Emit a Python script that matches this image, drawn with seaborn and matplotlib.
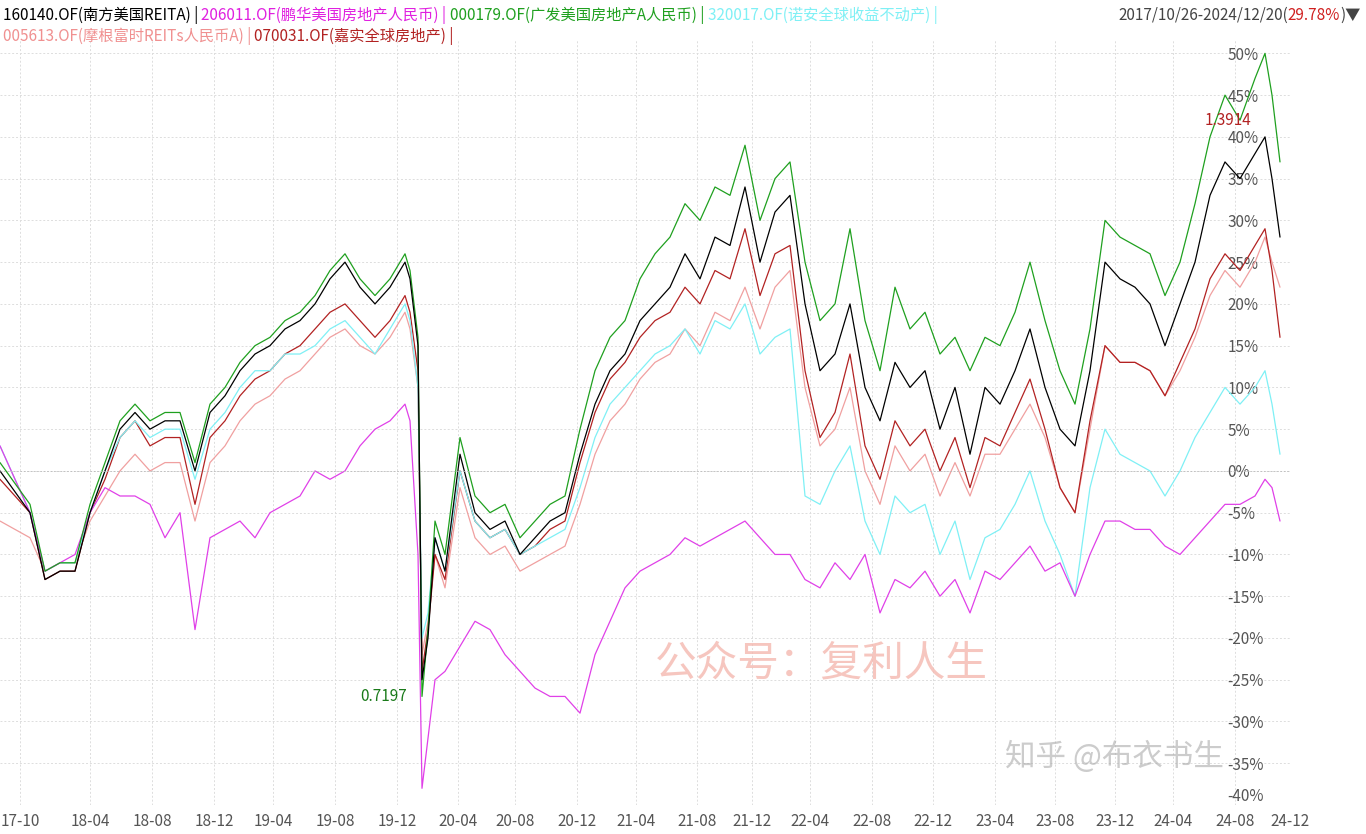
import matplotlib
matplotlib.use("Agg")
import matplotlib.pyplot as plt
import seaborn as sns
import pandas as pd
from matplotlib.ticker import FuncFormatter

day = [0,30,45,60,75,90,105,120,135,150,165,180,195,210,225,240,255,270,285,300,315,330,345,360,375,390,405,410,418,422,428,435,445,460,475,490,505,520,535,550,565,580,595,610,625,640,655,670,685,700,715,730,745,760,775,790,805,820,835,850,865,880,895,910,925,940,955,970,985,1000,1015,1030,1045,1060,1075,1090,1105,1120,1135,1150,1165,1180,1195,1210,1225,1240,1255,1265,1272,1280]

nanfang = [0,-5,-13,-12,-12,-5,0,5,7,5,6,6,0,7,9,12,14,15,17,18,20,23,25,22,20,22,25,23,15,-25,-20,-8,-12,2,-5,-7,-6,-10,-8,-6,-5,2,8,12,14,18,20,22,26,23,28,27,34,25,31,33,20,12,14,20,10,6,13,10,12,5,10,2,10,8,12,17,10,5,3,12,25,23,22,20,15,20,25,33,37,35,38,40,35,28]
guangfa = [1,-4,-12,-11,-11,-4,1,6,8,6,7,7,1,8,10,13,15,16,18,19,21,24,26,23,21,23,26,24,16,-27,-19,-6,-10,4,-3,-5,-4,-8,-6,-4,-3,5,12,16,18,23,26,28,32,30,34,33,39,30,35,37,25,18,20,29,18,12,22,17,19,14,16,12,16,15,19,25,18,12,8,17,30,28,27,26,21,25,32,40,45,42,47,50,45,37]
nuoan = [3,-5,-12,-11,-11,-5,0,4,6,4,5,5,-1,5,7,10,12,12,14,14,15,17,18,16,14,17,20,18,10,-20,-17,-8,-12,0,-6,-8,-7,-10,-9,-8,-7,-2,4,8,10,12,14,15,17,14,18,17,20,14,16,17,-3,-4,0,3,-6,-10,-3,-5,-4,-10,-6,-13,-8,-7,-4,0,-6,-10,-15,-2,5,2,1,0,-3,0,4,7,10,8,10,12,8,2]
penghua = [3,-5,-12,-11,-10,-5,-2,-3,-3,-4,-8,-5,-19,-8,-7,-6,-8,-5,-4,-3,0,-1,0,3,5,6,8,6,-10,-38,-32,-25,-24,-21,-18,-19,-22,-24,-26,-27,-27,-29,-22,-18,-14,-12,-11,-10,-8,-9,-8,-7,-6,-8,-10,-10,-13,-14,-11,-13,-10,-17,-13,-14,-12,-15,-13,-17,-12,-13,-11,-9,-12,-11,-15,-10,-6,-6,-7,-7,-9,-10,-8,-6,-4,-4,-3,-1,-2,-6]
mogen = [-6,-8,-12,-11,-11,-6,-3,0,2,0,1,1,-6,1,3,6,8,9,11,12,14,16,17,15,14,16,19,17,10,-22,-18,-10,-14,-2,-8,-10,-9,-12,-11,-10,-9,-4,2,6,8,11,13,14,17,15,19,18,22,17,22,24,10,3,5,10,0,-4,3,0,2,-3,1,-3,2,2,5,8,4,-2,-5,5,15,13,13,12,9,12,16,21,24,22,25,28,25,22]
jiashi = [-1,-5,-13,-12,-12,-5,-1,4,6,3,4,4,-4,4,6,9,11,12,14,15,17,19,20,18,16,18,21,19,12,-24,-19,-10,-13,0,-6,-8,-7,-10,-9,-7,-6,1,7,11,13,16,18,19,22,20,24,23,29,21,26,27,12,4,7,14,3,-1,6,3,5,0,4,-2,4,3,7,11,5,-2,-5,6,15,13,13,12,9,13,17,23,26,24,27,29,24,16]

series = {"nanfang": (nanfang, "black"), "guangfa": (guangfa, "#1fa01f"),
          "nuoan": (nuoan, "#7ff0f5"), "mogen": (mogen, "#f0a0a0"),
          "jiashi": (jiashi, "#b22222"), "penghua": (penghua, "#e040e8")}
rows = []
for k, (v, c) in series.items():
    for d, y in zip(day, v):
        rows.append({"day": d, "val": y, "fund": k})
df = pd.DataFrame(rows)

tick_pos = [20,90,152,214,273,335,397,458,515,577,636,697,752,810,872,933,995,1055,1115,1173,1235,1290]
tick_lab = ["17-10","18-04","18-08","18-12","19-04","19-08","19-12","20-04","20-08","20-12","21-04","21-08","21-12","22-04","22-08","22-12","23-04","23-08","23-12","24-04","24-08","24-12"]

sns.set_style("white")
plt.rcParams['font.family'] = ['Noto Sans CJK SC', 'DejaVu Sans']
fig = plt.figure(figsize=(13.66, 8.34), dpi=100)
ax = fig.add_axes([0.0, 29/834, 1290/1366, 1-69/834])
order = ["mogen", "jiashi", "nuoan", "penghua", "guangfa", "nanfang"]
sns.lineplot(data=df, x="day", y="val", hue="fund", hue_order=order,
             palette={k: series[k][1] for k in order}, linewidth=0.9, legend=False, ax=ax)
ax.set_xlim(0, 1290)
ax.set_ylim(-39.7, 51.6)
ax.yaxis.tick_right()
ax.set_yticks(range(-40, 51, 5))
ax.yaxis.set_major_formatter(FuncFormatter(lambda v, p: f"{int(v)}%"))
ax.set_xticks(tick_pos)
ax.set_xticklabels(tick_lab)
ax.tick_params(axis="y", labelsize=11, colors="#555555", length=0, pad=-45)
ax.tick_params(axis="x", labelsize=11, colors="#555555", length=0, pad=6)
for lab in ax.get_yticklabels():
    if lab.get_text() == "-40%":
        lab.set_va("bottom")
ax.grid(True, color="#dddddd", linestyle=(0, (2, 2)), linewidth=0.7)
ax.set_xlabel(""); ax.set_ylabel("")
for s in ax.spines.values():
    s.set_visible(False)
ax.axhline(0, color="#bbbbbb", linewidth=0.6, linestyle=(0, (2, 2)))

ax.text(1205, 41, "1.3914", color="#b22222", fontsize=11, va="bottom")
ax.text(360, -27, "0.7197", color="#1a7a1a", fontsize=11, va="center")
ax.text(655, -24.5, "公众号：复利人生", color="#f4b8b0", fontsize=30, alpha=0.8)
ax.text(1005, -35.3, "知乎 @布衣书生", color="#aaaaaa", fontsize=22, alpha=0.6)

parts1 = [("160140.OF(南方美国REITA) | ", "black"), ("206011.OF(鹏华美国房地产人民币) | ", "#e020e0"),
          ("000179.OF(广发美国房地产A人民币) | ", "#1fa01f"), ("320017.OF(诺安全球收益不动产) |", "#7ff0f5")]
parts2 = [("005613.OF(摩根富时REITs人民币A) | ", "#f09090"), ("070031.OF(嘉实全球房地产) |", "#b22222")]
for parts, y in [(parts1, 0.982), (parts2, 0.957)]:
    x = 0.002
    for t, c in parts:
        tx = fig.text(x, y, t, color=c, fontsize=11, va="center")
        fig.canvas.draw()
        x += tx.get_window_extent().width / fig.bbox.width
right = [("2017/10/26-2024/12/20(", "#444444"), ("29.78%", "#d02020"), (")▼", "#444444")]
x = 1.0 - 0.004
for t, c in reversed(right):
    tx = fig.text(x, 0.982, t, color=c, fontsize=11, va="center", ha="right")
    fig.canvas.draw()
    x -= tx.get_window_extent().width / fig.bbox.width
fig.savefig("out.png", dpi=100)
